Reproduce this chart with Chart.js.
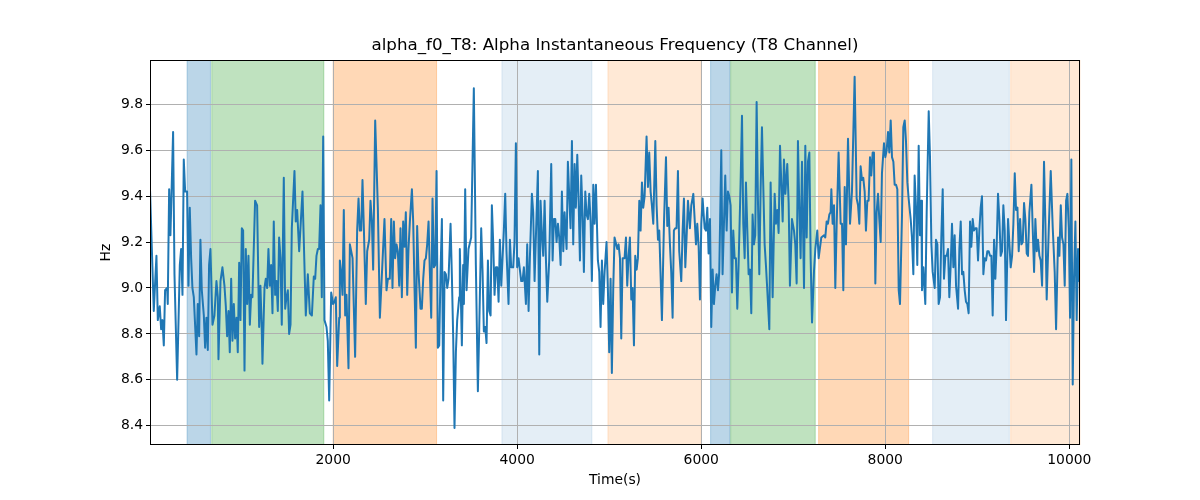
<!DOCTYPE html>
<html>
<head>
<meta charset="utf-8">
<script src="https://cdn.jsdelivr.net/npm/chart.js@4.4.1/dist/chart.umd.min.js"></script>
<style>html,body{margin:0;padding:0;background:#fff}canvas{display:block}</style>
</head>
<body>
<canvas id="c" width="1200" height="500"></canvas>
<script>
const titleText = 'alpha_f0_T8: Alpha Instantaneous Frequency (T8 Channel)';
const xLabel = 'Time(s)';
const yLabel = 'Hz';
const xTicks = [2000, 4000, 6000, 8000, 10000];
const yTicks = [8.4, 8.6, 8.8, 9.0, 9.2, 9.4, 9.6, 9.8];
const xRange = [10, 10116];
const yRange = [8.316, 9.993];

const spanStart = [413, 681, 2000, 3834, 4986, 6102, 6320, 7276, 8515, 9363];
const spanEnd   = [667, 1899, 3124, 4812, 6000, 6312, 7239, 8254, 9348, 10116];
const spanKind  = ['blue','green','orange','lightblue','lightorange','blue','green','orange','lightblue','lightorange'];

const times = [
10,51,80,95,116,131,145,160,174,196,203,218,232,261,276,305,334,348,363,377,392,413,428,442,457,471,486,515,529,544,558,573,595,609,623,638,652,667,689,710,732,747,754,776,797,819,
834,848,863,877,892,906,921,935,950,964,979,993,1008,1022,1037,1051,1066,1080,1095,1109,1123,1152,1174,1196,1210,1225,1232,1254,1268,1283,1297,1312,1326,1341,1355,1370,1384,1399,1413,1428,1442,1464,1479,1493,1508,1522,1537,1551,1580,1594,1609,1631,1667,
1703,1725,1747,1769,1790,1805,1819,1834,1848,1863,1877,1892,1906,1928,1942,1957,1979,2000,2015,2029,2044,2066,2073,2087,2102,2116,2131,2145,2167,2182,2211,2239,2261,2276,2290,2305,2319,2334,2355,2370,2392,2406,2421,2435,2457,2486,2508,
2558,2580,2595,2616,2631,2645,2660,2674,2689,2703,2718,2732,2747,2761,2776,2790,2805,2819,2834,2856,2870,2885,2899,2913,2928,2950,2964,2979,2993,3008,3022,3037,3051,3066,3080,3095,3109,3124,3138,3153,3167,3182,3196,3211,3225,3240,3254,3276,3290,3305,3319,3334,3348,3370,
3377,3399,3413,3421,3435,3450,3471,3500,3529,3551,3573,3587,3609,3624,3638,3653,3667,3682,3696,3711,3725,3740,3754,3769,3783,3798,3812,3827,3841,3855,3870,3884,3906,3921,3935,3957,3971,3986,4000,4015,4029,4044,4058,4073,4095,4109,4124,4138,4160,4174,4189,
4225,4240,4254,4269,4283,4298,4312,4327,4348,4370,4385,4399,4414,4428,4443,4457,4472,4486,4501,4515,4537,4551,4566,4580,4595,4609,4624,4638,4653,4667,4682,4696,4711,4725,4740,4754,4769,4783,4798,4812,4827,4841,4856,4877,4892,4906,4921,4935,4950,4971,4986,5000,5015,5029,5044,5058,
5088,5102,5117,5131,5146,5167,5182,5196,5211,5225,5240,5254,5269,5283,5298,5312,5327,5341,5356,5370,5385,5406,5421,5435,5450,5464,5479,5501,5515,5530,5544,5573,5595,5617,5631,5645,5660,5674,5689,5703,5718,5732,5747,5761,5783,5798,5812,5827,5841,5856,5877,5892,5914,
5943,5957,5972,5986,6001,6015,6037,6051,6066,6080,6095,6109,6124,6138,6153,6167,6182,6196,6218,6232,6247,6261,6276,6290,6305,6319,6334,6348,6363,6377,6392,6406,6428,6443,6457,6472,6486,6501,6515,6530,6544,6558,6573,6587,6602,6616,6631,6645,6660,6674,6689,6703,6718,6740,6754,6776,
6798,6812,6827,6841,6856,6870,6885,6899,6914,6935,6950,6964,6986,7008,7022,7037,7051,7066,7080,7095,7117,7131,7146,7160,7175,7189,7204,7225,7240,7261,7276,7305,7334,7348,7363,7377,7392,7406,7414,7428,7443,7457,7472,7493,7515,7530,7544,7559,7573,7595,
7617,7638,7667,7689,7704,7718,7732,7747,7761,7776,7790,7805,7819,7834,7848,7863,7877,7892,7906,7921,7935,7950,7964,7986,8001,8015,8030,8044,8059,8073,8088,8102,8117,8131,8146,8160,8182,8196,8211,8225,8240,8254,8276,8290,8305,8319,8334,8348,8363,8377,8392,8399,8414,8435,8450,8472,
8486,8501,8515,8537,8551,8566,8580,8595,8609,8624,8638,8653,8667,8682,8696,8711,8725,8740,8754,8769,8791,8805,8820,8834,8848,8863,8877,8892,8906,8921,8935,8950,8964,8979,8993,9008,9022,9037,9051,9066,9080,9095,9109,9124,9138,9153,9167,9182,9196,9211,9225,9240,9254,9269,9283,9298,
9312,9334,9349,9363,9378,9392,9407,9421,9436,9450,9465,9479,9494,9508,9522,9537,9551,9566,9588,9602,9617,9631,9646,9660,9675,9689,9704,9725,9740,9754,9776,9798,9820,9841,9856,9878,9892,9907,9921,9936,9950,9965,9979,9994,10008,10022,10037,10051,10066,10080,10095,10109,10116
];
const values = [
9.43,8.90,9.14,8.86,8.92,8.82,8.86,8.75,8.99,9.00,8.93,9.43,9.23,9.68,9.06,8.60,9.10,9.17,8.97,9.56,9.42,9.42,9.01,9.35,9.13,9.00,8.96,8.71,8.93,8.79,9.21,8.99,8.88,8.74,8.87,8.73,9.10,9.17,8.84,8.88,9.03,8.96,8.69,9.03,9.09,9.01,
8.92,8.79,8.90,8.72,9.04,8.77,8.93,8.78,8.87,8.72,9.11,8.86,9.26,9.25,8.64,9.17,8.93,9.14,8.84,8.97,8.96,9.38,9.36,8.83,9.01,8.81,8.67,9.00,9.04,9.00,9.17,9.01,9.10,8.89,9.29,8.97,9.03,8.90,9.22,9.13,8.84,9.48,8.91,8.96,8.99,8.80,8.84,9.26,9.51,9.29,9.34,9.16,9.42,
8.88,9.06,8.89,8.88,9.05,9.04,9.14,9.17,9.17,9.36,8.96,9.66,8.86,8.83,8.77,8.51,8.98,8.93,8.94,8.96,8.66,8.87,9.12,9.07,8.97,9.34,8.88,8.97,8.65,9.19,9.13,8.70,9.25,9.39,9.25,9.25,9.47,9.26,8.93,9.16,9.21,9.38,9.29,9.08,9.73,9.35,8.87,
9.30,8.99,9.04,9.04,9.30,9.00,9.29,9.13,9.19,9.16,9.01,9.26,8.96,9.29,9.18,9.33,8.97,9.17,9.29,9.43,9.29,8.99,8.74,9.27,9.07,8.91,8.91,9.04,9.12,9.13,9.19,9.29,9.07,8.87,9.39,9.09,9.10,9.51,8.74,8.75,9.07,9.30,8.51,9.07,9.06,9.00,9.04,9.28,9.06,8.78,8.39,8.72,8.86,8.96,
9.17,8.75,9.10,8.93,9.43,8.99,9.17,9.22,9.87,9.10,8.55,8.81,9.26,9.07,8.81,8.83,8.76,9.12,8.90,8.88,9.36,9.19,8.97,9.09,9.09,8.94,9.21,9.01,9.13,9.25,9.41,9.16,8.93,9.21,9.09,9.09,9.20,9.63,9.09,9.13,9.08,9.03,9.03,9.09,8.93,9.19,8.90,9.13,9.41,9.33,9.03,
9.51,8.71,9.38,9.23,9.14,9.38,9.13,8.94,9.12,9.54,9.12,9.30,9.30,9.20,9.28,9.22,9.10,9.42,9.16,9.33,9.17,9.55,9.40,9.26,9.64,9.19,9.54,9.35,9.58,9.39,9.12,9.49,9.32,9.07,9.42,9.32,9.30,9.41,9.29,9.03,9.45,9.28,9.45,9.12,9.07,8.83,9.12,8.93,9.07,9.20,8.99,8.72,9.04,8.63,9.00,9.22,
9.17,9.19,9.13,8.78,9.13,9.13,9.22,9.01,9.14,9.22,8.95,9.00,8.75,9.14,9.08,9.13,9.38,9.25,9.46,9.35,9.40,9.66,9.44,9.59,9.42,9.36,9.28,9.64,9.36,9.21,9.25,8.86,9.28,9.57,9.27,9.35,9.19,9.07,8.87,9.25,9.26,9.26,9.51,9.16,9.03,9.25,9.39,9.09,9.22,9.38,9.26,9.36,9.41,
9.19,9.28,9.18,8.95,9.28,9.39,9.26,9.25,9.35,9.15,9.30,8.83,9.08,8.93,9.01,9.06,8.99,9.07,9.60,9.06,9.28,9.49,9.25,9.42,9.40,9.36,8.98,9.25,9.13,9.13,8.91,9.10,9.46,9.75,9.28,9.13,9.46,9.25,9.06,9.08,8.89,9.32,9.19,9.23,9.81,9.39,9.06,9.42,9.70,9.45,9.19,9.10,8.99,8.82,9.46,8.96,
9.41,9.28,9.34,9.24,9.62,9.46,9.29,9.56,9.41,9.54,9.37,9.01,9.30,9.25,9.19,9.02,9.64,9.35,9.13,9.55,9.00,9.62,9.22,9.55,9.59,9.13,8.85,9.07,9.17,9.25,9.13,9.22,9.23,9.22,9.29,9.28,9.32,9.33,9.43,9.28,9.36,9.00,9.28,9.59,9.28,9.28,8.99,9.44,9.19,9.65,
9.28,9.42,9.92,9.39,9.36,9.28,9.53,9.47,9.48,9.42,9.25,9.38,9.38,9.57,9.49,9.59,9.59,9.02,9.33,9.41,9.30,9.20,9.50,9.63,9.57,9.60,9.68,9.59,9.73,9.57,9.55,9.45,9.45,9.43,8.99,8.93,9.32,9.70,9.73,9.64,9.46,9.39,9.30,9.22,9.06,9.49,9.35,9.10,9.62,9.23,9.38,8.99,9.09,8.93,9.33,9.77,
9.57,9.19,9.07,9.00,9.21,9.19,8.93,8.96,9.22,9.43,9.04,9.14,9.14,9.17,8.96,9.10,9.28,9.09,9.23,9.01,8.91,9.17,9.29,9.06,9.07,8.99,8.94,8.93,8.89,9.29,9.18,9.30,9.25,9.26,9.26,9.12,9.25,9.35,9.40,9.06,9.13,9.12,9.16,9.16,9.14,9.14,8.88,9.21,9.04,9.19,9.41,9.30,9.14,9.16,9.36,9.25,
8.86,9.30,9.19,9.09,9.14,9.28,9.50,9.34,9.35,9.16,9.30,9.19,9.20,9.37,9.30,9.15,9.14,9.33,9.45,9.26,9.07,9.30,9.16,9.21,9.14,9.12,9.01,9.55,9.28,8.95,9.25,9.51,9.26,9.07,8.82,9.22,9.14,9.36,9.22,9.19,9.01,9.38,9.41,9.26,8.87,9.56,8.58,9.04,9.29,8.86,9.17,9.03,9.15
];

const spanFill = {
  blue: 'rgba(31,119,180,0.3)',
  green: 'rgba(44,160,44,0.3)',
  orange: 'rgba(255,127,14,0.3)',
  lightblue: 'rgba(31,119,180,0.12)',
  lightorange: 'rgba(255,127,14,0.17)'
};

const points = times.map((t, i) => ({x: t, y: values[i]}));

const FONT = 'DejaVu Sans';
Chart.defaults.font.family = FONT;
Chart.defaults.color = '#000';

const spanPlugin = {
  id: 'spans',
  beforeDraw(chart) {
    const {ctx, chartArea: a, scales: {x}} = chart;
    ctx.save();
    ctx.fillStyle = '#fff';
    ctx.fillRect(0, 0, chart.width, chart.height);
    for (let i = 0; i < spanStart.length; i++) {
      const l = Math.max(x.getPixelForValue(spanStart[i]), a.left);
      const r = Math.min(x.getPixelForValue(spanEnd[i]), a.right);
      const c = spanFill[spanKind[i]];
      ctx.fillStyle = c;
      ctx.fillRect(l, a.top, r - l, a.bottom - a.top);
      ctx.strokeStyle = c;
      ctx.lineWidth = 1;
      ctx.beginPath();
      ctx.moveTo(l, a.top); ctx.lineTo(l, a.bottom);
      ctx.moveTo(r, a.top); ctx.lineTo(r, a.bottom);
      ctx.stroke();
    }
    ctx.restore();
  },
  afterDraw(chart) {
    const {ctx, chartArea: a} = chart;
    ctx.save();
    ctx.strokeStyle = '#000';
    ctx.lineWidth = 1;
    ctx.strokeRect(Math.round(a.left) + 0.5, Math.round(a.top) + 0.5,
                   Math.round(a.right - a.left) - 1, Math.round(a.bottom - a.top) - 1);
    ctx.restore();
  }
};

new Chart(document.getElementById('c'), {
  type: 'line',
  data: {
    datasets: [{
      data: points,
      borderColor: '#1f77b4',
      borderWidth: 2,
      pointRadius: 0,
      tension: 0,
      borderJoinStyle: 'round',
      fill: false
    }]
  },
  options: {
    responsive: false,
    animation: false,
    layout: {padding: {left: 0, right: 120, top: 0, bottom: 0}},
    plugins: {
      legend: {display: false},
      tooltip: {enabled: false},
      title: {
        display: true,
        text: titleText,
        fullSize: false,
        font: {family: FONT, size: 16.7, weight: 'normal', lineHeight: 1.2},
        color: '#000',
        padding: {top: 36, bottom: 4}
      }
    },
    scales: {
      x: {
        type: 'linear',
        min: xRange[0],
        max: xRange[1],
        afterFit(s) { s.height = 55; },
        afterBuildTicks(s) { s.ticks = xTicks.map(v => ({value: v})); },
        ticks: {
          font: {family: FONT, size: 13.9},
          color: '#000',
          padding: 3,
          maxRotation: 0,
          autoSkip: false,
          callback: v => String(v)
        },
        grid: {color: '#b0b0b0', lineWidth: 1, tickLength: 4, tickColor: '#000', drawTicks: true},
        border: {display: false},
        title: {
          display: true,
          text: xLabel,
          font: {family: FONT, size: 13.9, lineHeight: 1.2},
          color: '#000',
          padding: {top: 0, bottom: 11}
        }
      },
      y: {
        type: 'linear',
        min: yRange[0],
        max: yRange[1],
        afterFit(s) { s.width = 150; },
        afterBuildTicks(s) { s.ticks = yTicks.map(v => ({value: v})); },
        ticks: {
          font: {family: FONT, size: 13.9},
          color: '#000',
          padding: 3,
          autoSkip: false,
          callback: v => Number(v).toFixed(1)
        },
        grid: {color: '#b0b0b0', lineWidth: 1, tickLength: 4, tickColor: '#000', drawTicks: true},
        border: {display: false},
        title: {
          display: true,
          text: yLabel,
          font: {family: FONT, size: 13.9, lineHeight: 1.2},
          color: '#000',
          padding: {top: 98, bottom: 0}
        }
      }
    }
  },
  plugins: [spanPlugin]
});
</script>
</body>
</html>
